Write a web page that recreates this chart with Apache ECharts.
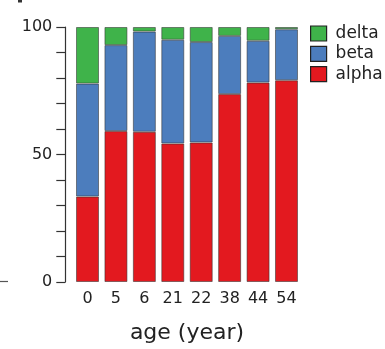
<!DOCTYPE html>
<html>
<head>
<meta charset="utf-8">
<script src="https://cdn.jsdelivr.net/npm/echarts@6/dist/echarts.min.js"></script>
<style>html,body{margin:0;padding:0;background:#fff}#c{width:385px;height:349px}</style>
</head>
<body>
<div id="c"></div>
<script>
var categories = ['0', '5', '6', '21', '22', '38', '44', '54'];
var alpha = [33.5, 59.2, 58.9, 54.3, 54.7, 73.7, 78.2, 79.1];
var beta = [44.3, 33.7, 39.3, 40.7, 39.4, 22.8, 16.4, 20.0];
var delta = [22.2, 7.1, 1.8, 5.0, 5.9, 3.5, 5.4, 0.9];
var yTicks = [0, 50, 100];

var chart = echarts.init(document.getElementById('c'), null, {renderer: 'canvas'});
var font = 'DejaVu Sans';
var border = {borderColor: 'rgba(50,50,50,0.55)', borderWidth: 1};
function s(name, data, color) {
  return {
    name: name, type: 'bar', stack: 'a', data: data, barWidth: 23,
    itemStyle: Object.assign({color: color}, border),
    emphasis: {disabled: true}
  };
}
chart.setOption({
  animation: false,
  textStyle: {fontFamily: font},
  grid: {left: 73.3, top: 27, width: 227.4, height: 255},
  legend: {
    orient: 'vertical', left: 305, top: 20, itemWidth: 16, itemHeight: 15, itemGap: 3.3,
    icon: 'rect', data: ['delta', 'beta', 'alpha'],
    itemStyle: {borderColor: '#222', borderWidth: 1.2},
    textStyle: {fontFamily: font, fontSize: 17, color: '#222', padding: [0, 0, 0, 4]}
  },
  xAxis: {
    type: 'category', data: categories,
    axisLine: {show: false}, axisTick: {show: false},
    axisLabel: {fontFamily: font, fontSize: 16, color: '#222', margin: 9},
    name: 'age (year)', nameLocation: 'middle', nameGap: 40,
    nameTextStyle: {fontFamily: font, fontSize: 22, color: '#222'}
  },
  yAxis: {
    type: 'value', min: 0, max: 100, interval: 10, offset: 8,
    splitLine: {show: false},
    axisLine: {show: true, lineStyle: {color: '#333', width: 1.2}},
    axisTick: {show: true, length: 9, lineStyle: {color: '#333', width: 1.2}},
    axisLabel: {
      fontFamily: font, fontSize: 16, color: '#222', margin: 13,
      formatter: function (v) { return yTicks.indexOf(v) >= 0 ? String(v) : ''; }
    }
  },
  graphic: [
    {type: 'line', shape: {x1: 0, y1: 281.5, x2: 8, y2: 281.5}, style: {stroke: '#555', lineWidth: 1.2}},
    {type: 'rect', shape: {x: 18, y: 0, width: 4, height: 2.5}, style: {fill: '#333'}}
  ],
  series: [
    s('alpha', alpha, '#e3191f'),
    s('beta', beta, '#4c7dbd'),
    s('delta', delta, '#3fb34a')
  ]
});
</script>
</body>
</html>
